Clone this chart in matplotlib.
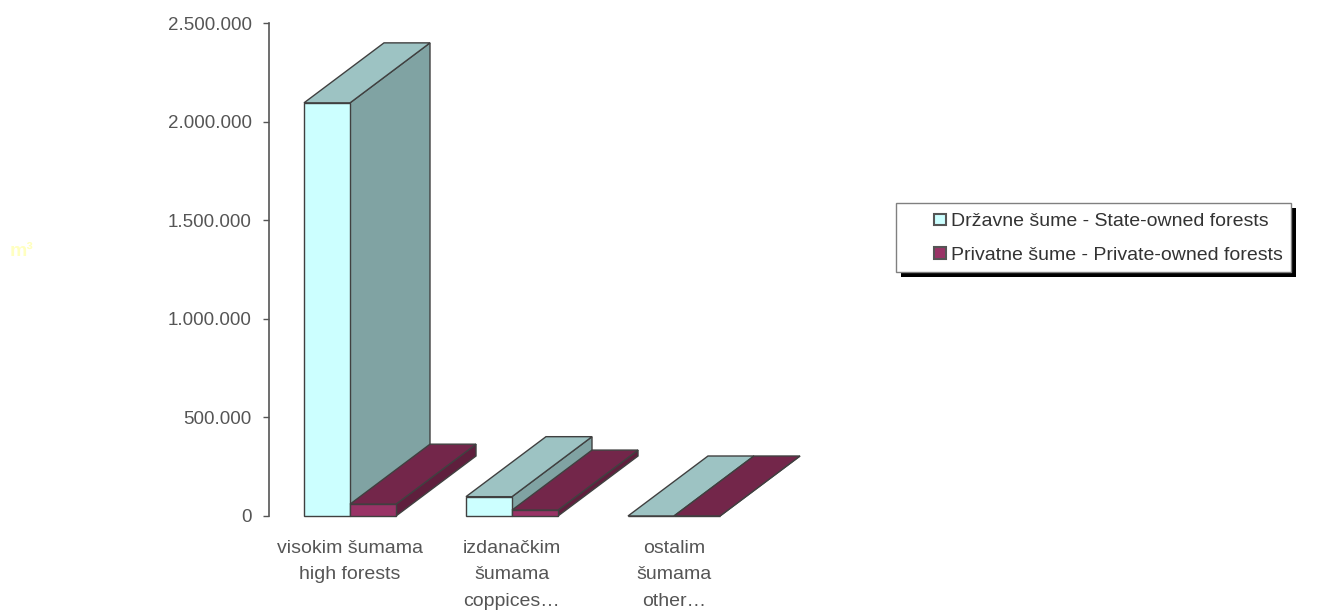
import matplotlib
matplotlib.use("Agg")
import matplotlib.pyplot as plt
from matplotlib.patches import Polygon, Rectangle, Patch
from matplotlib.legend_handler import HandlerPatch
from matplotlib.ticker import FuncFormatter, MultipleLocator

# ---- data ----
categories = ["visokim šumama\nhigh forests",
              "izdanačkim\nšumama\ncoppices…",
              "ostalim\nšumama\nother…"]
series_names = ["Državne šume - State-owned forests",
                "Privatne šume - Private-owned forests"]
state_values = [2095000, 98000, 0]
private_values = [60000, 30000, 0]
y_max = 2500000
y_step = 500000

# ---- style ----
FONT = "Liberation Sans"
faces = {
    "state": {"front": "#CCFFFF", "top": "#9DC3C3", "side": "#80A3A3"},
    "private": {"front": "#993366", "top": "#73264A", "side": "#5F1F3D"},
}
EDGE = "#404040"
DEPTH_PX = (80, 60)      # 3D depth offset in pixels (right, up)
BAR_W = 0.284            # bar width in category units

W, H = 1322, 611
fig = plt.figure(figsize=(W / 100, H / 100), dpi=100)
fig.patch.set_facecolor("white")
ax = fig.add_axes([269 / W, 95 / H, 486 / W, 493 / H])
ax.set_xlim(-0.5, len(categories) - 0.5)
ax.set_ylim(0, y_max)
ax.set_facecolor("none")

for s in ("top", "right", "bottom"):
    ax.spines[s].set_visible(False)
ax.spines["left"].set_color("#555555")
ax.spines["left"].set_linewidth(1.2)
ax.yaxis.set_major_locator(MultipleLocator(y_step))
ax.yaxis.set_major_formatter(FuncFormatter(lambda v, p: f"{int(v):,}".replace(",", ".")))
ax.tick_params(axis="y", direction="out", length=4.5, width=1, color="#555555",
               pad=8, labelsize=13.5, labelcolor="#555555")
for lab in ax.get_yticklabels():
    lab.set_fontfamily(FONT)

ax.set_xticks(range(len(categories)))
ax.set_xticklabels(categories, fontsize=14, fontfamily=FONT, color="#555555",
                   linespacing=1.75)
ax.tick_params(axis="x", length=0, pad=17)

# depth offset in data units
fig.canvas.draw()
inv = ax.transData.inverted()
p0 = inv.transform(ax.transData.transform((0, 0)))
p1 = inv.transform(ax.transData.transform((0, 0)) + DEPTH_PX)
DX, DY = p1[0] - p0[0], p1[1] - p0[1]


def bar3d(x0, val, key, z):
    c = faces[key]
    x1 = x0 + BAR_W
    side = Polygon([(x1, 0), (x1 + DX, DY), (x1 + DX, val + DY), (x1, val)],
                   closed=True, facecolor=c["side"], edgecolor=EDGE, lw=1, clip_on=False, zorder=z)
    top = Polygon([(x0, val), (x1, val), (x1 + DX, val + DY), (x0 + DX, val + DY)],
                  closed=True, facecolor=c["top"], edgecolor=EDGE, lw=1, clip_on=False, zorder=z)
    front = Rectangle((x0, 0), BAR_W, val, facecolor=c["front"], edgecolor=EDGE, lw=1,
                      clip_on=False, zorder=z)
    for p in (side, top, front):
        ax.add_patch(p)


z = 3
for i in range(len(categories)):
    bar3d(i - BAR_W, state_values[i], "state", z)
    z += 1
    bar3d(i, private_values[i], "private", z)
    z += 1

# y-axis unit label (very light yellow)
fig.text(10 / W, 1 - 252 / H, "m³", fontsize=14, fontweight="bold", color="#FFFFC0",
         fontfamily=FONT, va="center", ha="left")


# legend with small square markers
def sq(legend, orig_handle, xdescent, ydescent, width, height, fontsize):
    s = 0.58 * fontsize
    return Rectangle((width - s - xdescent, (height - s) / 2 - ydescent), s, s)


handles = [Patch(facecolor=faces["state"]["front"], edgecolor="#555555", lw=1.5),
           Patch(facecolor=faces["private"]["front"], edgecolor="#555555", lw=1.5)]
leg = fig.legend(handles, series_names, loc="upper left",
                 bbox_to_anchor=(896 / W, 1 - 203 / H - 0.01, 395 / W, 0.01),
                 bbox_transform=fig.transFigure, mode="expand",
                 borderaxespad=0, frameon=True, fancybox=False, framealpha=1,
                 facecolor="white", edgecolor="#808080",
                 prop={"family": FONT, "size": 14},
                 handlelength=2.1, handleheight=0.8, handletextpad=0.3,
                 labelspacing=0.8, borderpad=0.45,
                 handler_map={Patch: HandlerPatch(patch_func=sq)})
leg.get_frame().set_linewidth(1)
for t in leg.get_texts():
    t.set_color("#333333")
leg.set_zorder(10)

fig.canvas.draw()
bb = leg.get_window_extent()
shadow = Rectangle((bb.x0 + 5, bb.y0 - 5), bb.width, bb.height, transform=None,
                   facecolor="black", edgecolor="none", zorder=9)
fig.add_artist(shadow)

fig.savefig("out.png", dpi=100, facecolor="white")
